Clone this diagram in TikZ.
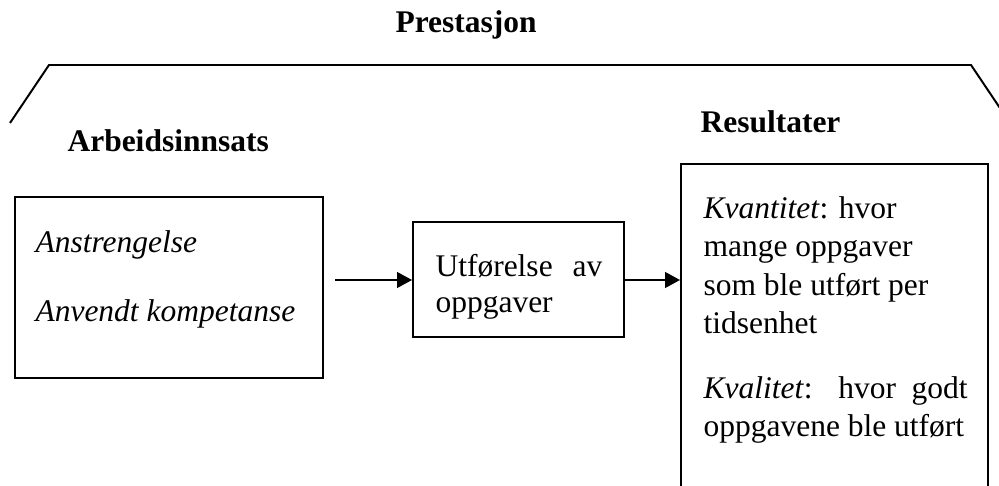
\documentclass[tikz,border=0pt]{standalone}
\usepackage{fontspec}
\setmainfont{Liberation Serif}
\usetikzlibrary{arrows.meta,fit}
\begin{document}
\begin{tikzpicture}[x=0.381pt,y=-0.381pt,
  line/.style={line width=0.75pt},
  boxframe/.style={draw, line width=0.75pt, inner sep=0pt},
  txt/.style={anchor=base west, inner sep=0pt, font=\fontsize{12}{14}\selectfont},
  head/.style={anchor=base west, inner sep=0pt, font=\fontsize{12}{14}\selectfont\bfseries},
  arr/.style={line width=0.75pt, -{Triangle[length=5.7pt,width=6pt]}}]
\useasboundingbox (0,0) rectangle (999,486);
\clip (0,0) rectangle (999,486);

% overarching bracket
\node[head] (prest) at (395,33) {Prestasjon};
\draw[line] (10,123) -- (49,65) -- (971,65) -- (1010,123);

% headings
\node[head] (arbh) at (67,152) {Arbeidsinnsats};
\node[head] (resh) at (700,133) {Resultater};

% boxes
\node[boxframe, fit={(15,197) (323,378)}] (arb) {};
\node[boxframe, fit={(413,222) (624,337)}] (utf) {};
\node[boxframe, fit={(681,164) (988,560)}] (res) {};

% effort box
\node[txt] (ans) at (35,253) {\itshape Anstrengelse};
\node[txt] (anv) at (35,321) {\itshape Anvendt kompetanse};

% task box
\node[txt] (utf1) at (435,277) {\makebox[63.6pt][s]{Utførelse av}};
\node[txt] (utf2) at (435,313) {oppgaver};

% results box
\node[txt] (r1) at (703,219) {\textit{Kvantitet}: hvor};
\node[txt] (r2) at (703,257) {mange oppgaver};
\node[txt] (r3) at (703,296) {som ble utført per};
\node[txt] (r4) at (703,334) {tidsenhet};
\node[txt] (r5) at (703,398) {\makebox[100.6pt][s]{\textit{Kvalitet}: hvor godt}};
\node[txt] (r6) at (703,436) {oppgavene ble utført};

% arrows
\coordinate (a1) at (335,280);
\draw[arr] (a1) -- (utf.west |- a1);
\draw[arr] (utf.east |- a1) -- (res.west |- a1);
\end{tikzpicture}
\end{document}
